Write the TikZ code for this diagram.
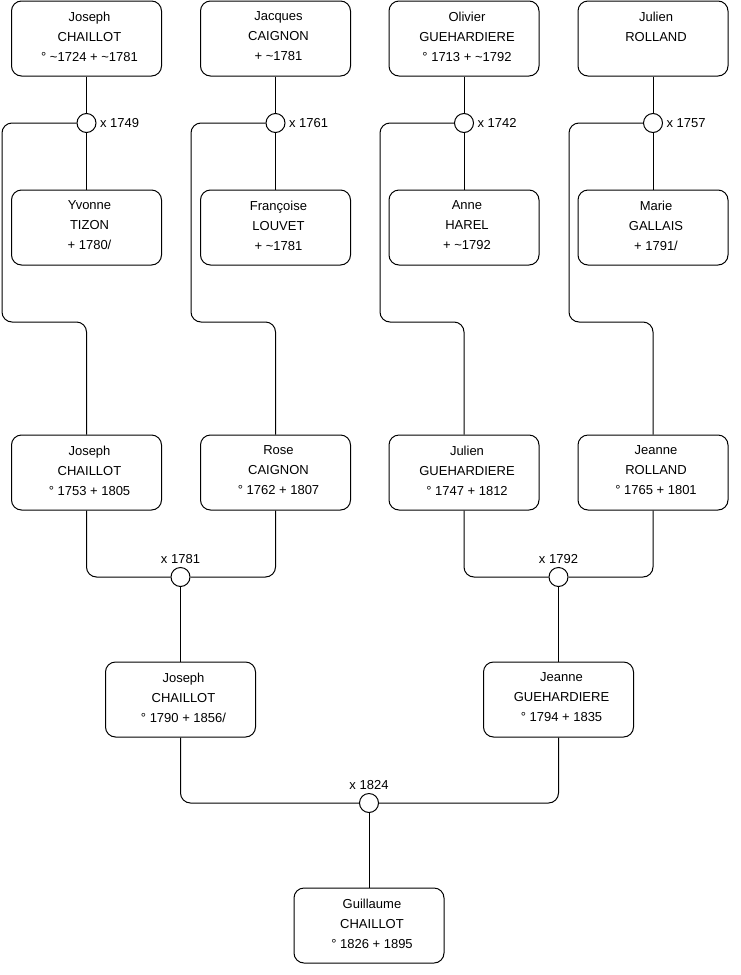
\documentclass[tikz,border=0pt]{standalone}
\usepackage{fontspec}
\setmainfont{Liberation Sans}
\newcommand\tl{\textasciitilde}
\tikzset{
  box/.style={draw, rounded corners=7.5pt, minimum width=112.5pt, minimum height=56.25pt, inner sep=0pt, line width=0.75pt},
  ptext/.style={align=center, font=\fontsize{9.75pt}{15pt}\selectfont, inner sep=0pt},
  marr/.style={draw, circle, minimum size=14.25pt, inner sep=0pt, fill=white, line width=0.75pt},
  lbl/.style={font=\fontsize{9.75pt}{12pt}\selectfont, inner sep=2.5pt},
  link/.style={line width=0.75pt, rounded corners=7.5pt}
}
\newcommand\person[3]{\node[box] (#1) at (#2) {}; \node[ptext, xshift=2.25pt, yshift=1.6pt] (#1t) at (#1.center) {#3};}
\begin{document}
\begin{tikzpicture}[x=0.75pt,y=-0.75pt]
\useasboundingbox[fill=white] (0,0) rectangle (740,975);
% generation 1
\person{p1}{86.5,38.5}{Joseph\\CHAILLOT\\° \tl1724 + \tl1781}
\person{p2}{275.5,38.5}{Jacques\\CAIGNON\\+ \tl1781}
\person{p3}{464,38.5}{Olivier\\GUEHARDIERE\\° 1713 + \tl1792}
\person{p4}{653,38.5}{Julien\\ROLLAND\\\vphantom{° 1780/}}
% spouses
\person{s1}{86.5,227.5}{Yvonne\\TIZON\\+ 1780/}
\person{s2}{275.5,227.5}{Françoise\\LOUVET\\+ \tl1781}
\person{s3}{464,227.5}{Anne\\HAREL\\+ \tl1792}
\person{s4}{653,227.5}{Marie\\GALLAIS\\+ 1791/}
% marriages row 1
\node[marr] (m1) at (86.5,123) {};
\node[marr] (m2) at (275.5,123) {};
\node[marr] (m3) at (464,123) {};
\node[marr] (m4) at (653,123) {};
\node[lbl, anchor=west] (l1) at (m1.east) {x 1749};
\node[lbl, anchor=west] (l2) at (m2.east) {x 1761};
\node[lbl, anchor=west] (l3) at (m3.east) {x 1742};
\node[lbl, anchor=west] (l4) at (m4.east) {x 1757};
% generation 2
\person{c1}{86.5,472.5}{Joseph\\CHAILLOT\\° 1753 + 1805}
\person{c2}{275.5,472.5}{Rose\\CAIGNON\\° 1762 + 1807}
\person{c3}{464,472.5}{Julien\\GUEHARDIERE\\° 1747 + 1812}
\person{c4}{653,472.5}{Jeanne\\ROLLAND\\° 1765 + 1801}
% marriages row 2
\node[marr] (m5) at (180.5,577) {};
\node[marr] (m6) at (558.5,577) {};
\node[lbl, anchor=south] (l5) at (m5.north) {x 1781};
\node[lbl, anchor=south] (l6) at (m6.north) {x 1792};
% generation 3
\person{g1}{180.5,699.5}{Joseph\\CHAILLOT\\° 1790 + 1856/}
\person{g2}{558.5,699.5}{Jeanne\\GUEHARDIERE\\° 1794 + 1835}
\node[marr] (m7) at (369,803) {};
\node[lbl, anchor=south] (l7) at (m7.north) {x 1824};
\person{h1}{369,925.5}{Guillaume\\CHAILLOT\\° 1826 + 1895}
% connectors row 1
\foreach \i in {1,2,3,4}{
  \draw[link] (p\i.south) -- (m\i.north);
  \draw[link] (m\i.south) -- (s\i.north);
}
\draw[link] (m1.west) -| (2,322) -| (c1.north);
\draw[link] (m2.west) -| (191,322) -| (c2.north);
\draw[link] (m3.west) -| (380,322) -| (c3.north);
\draw[link] (m4.west) -| (569,322) -| (c4.north);
% connectors row 2
\draw[link] (c1.south) |- (m5.west);
\draw[link] (c2.south) |- (m5.east);
\draw[link] (c3.south) |- (m6.west);
\draw[link] (c4.south) |- (m6.east);
\draw[link] (m5.south) -- (g1.north);
\draw[link] (m6.south) -- (g2.north);
% connectors row 3
\draw[link] (g1.south) |- (m7.west);
\draw[link] (g2.south) |- (m7.east);
\draw[link] (m7.south) -- (h1.north);
\end{tikzpicture}
\end{document}
